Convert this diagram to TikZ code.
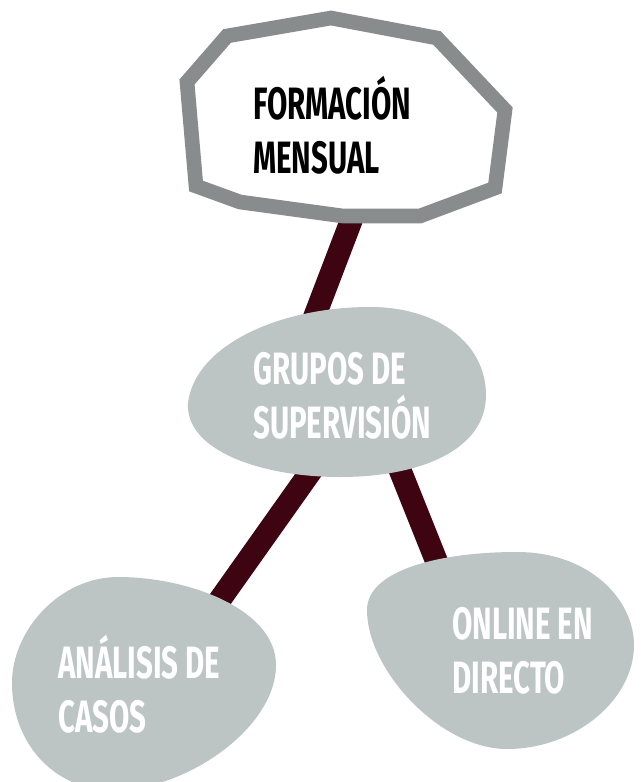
\documentclass[tikz,border=0pt]{standalone}
\usepackage{fontspec}
\setmainfont{Fira Sans}[FakeStretch=0.65]
\definecolor{maroon}{HTML}{3E0412}
\definecolor{blobgray}{HTML}{BCC5C4}
\definecolor{framegray}{HTML}{898C8C}
\newcommand{\toprule}{\rule{0pt}{36pt}}
\tikzset{
  link/.style={draw=maroon, line width=17pt},
  blob/.style={fill=blobgray, draw=none},
  frame/.style={draw=framegray, fill=white, line width=11pt, line join=miter},
  label/.style={inner sep=0pt, anchor=north west, align=left,
    font=\fontsize{34}{40.5}\selectfont\bfseries},
}
\begin{document}
\begin{tikzpicture}[x=0.75pt, y=-0.75pt]
\useasboundingbox (0,0) rectangle (640,782);
\fill[white] (0,0) rectangle (640,782);
\clip (0,0) rectangle (640,782);
% connector end points
\coordinate (c1a) at (361,195);
\coordinate (c1b) at (305.6,340);
\coordinate (c2a) at (326,450);
\coordinate (c2b) at (205.5,620);
\coordinate (c3a) at (392,450);
\coordinate (c3b) at (448,590);
\draw[link] (c1a) -- (c1b);
\draw[link] (c2a) -- (c2b);
\draw[link] (c3a) -- (c3b);
% top frame
\draw[frame] (227,36) -- (331,18) -- (437,38) -- (505,110) -- (495,188)
  -- (420,216) -- (343,216) -- (240,202) -- (196,186) -- (187,82) -- cycle;
% middle egg
\fill[blob] (188,403) .. controls (195,345) and (280,307) .. (370,307)
  .. controls (440,307) and (486,345) .. (486,395)
  .. controls (486,450) and (420,477) .. (340,477)
  .. controls (260,477) and (185,450) .. (188,403) -- cycle;
% left blob
\fill[blob] (12,683) .. controls (12,630) and (60,577) .. (118,577)
  .. controls (190,577) and (276,610) .. (276,665)
  .. controls (276,730) and (180,795) .. (105,790)
  .. controls (50,786) and (12,740) .. (12,683) -- cycle;
% right blob
\fill[blob] (367,610) .. controls (367,570) and (440,552) .. (517,552)
  .. controls (590,552) and (634,600) .. (634,645)
  .. controls (634,700) and (575,749) .. (507,749)
  .. controls (440,749) and (367,670) .. (367,610) -- cycle;
% labels
\node[label, text=black] (formacion) at (253,71) {\toprule FORMACIÓN\\MENSUAL};
\node[label, text=white] (grupos) at (253,336) {\toprule GRUPOS DE\\SUPERVISIÓN};
\node[label, text=white] (analisis) at (58,630) {\toprule ANÁLISIS DE\\CASOS};
\node[label, text=white] (online) at (452,591) {\toprule ONLINE EN\\DIRECTO};
\end{tikzpicture}
\end{document}
